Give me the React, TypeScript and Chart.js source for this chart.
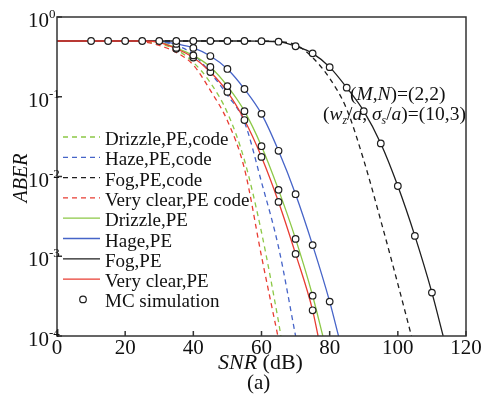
import React, { useEffect, useRef } from 'react';
import { Chart, registerables } from 'chart.js';

Chart.register(...registerables);

// ---- axis ticks ----
const xTicks = [0, 20, 40, 60, 80, 100, 120];
const yTickExps = [0, -1, -2, -3, -4];

// ---- analytical PE curves (solid) ----
const drizzleX = [0, 5, 10, 15, 20, 25, 30, 35, 40, 45, 50, 55, 60, 65, 70, 75, 78];
const drizzleY = [0.5, 0.5, 0.5, 0.5, 0.5, 0.5, 0.485, 0.41, 0.33, 0.236, 0.136, 0.066, 0.024, 0.0068, 0.00165, 0.00032, 0.0001];

const hazeX = [0, 5, 10, 15, 20, 25, 30, 35, 40, 45, 50, 55, 60, 65, 70, 75, 80, 82.6];
const hazeY = [0.5, 0.5, 0.5, 0.5, 0.5, 0.5, 0.495, 0.46, 0.41, 0.324, 0.223, 0.125, 0.061, 0.021, 0.006, 0.00138, 0.00027, 0.0001];

const fogX = [0, 5, 10, 15, 20, 25, 30, 35, 40, 45, 50, 55, 60, 65, 70, 75, 80, 85, 90, 95, 100, 105, 110, 113.3];
const fogY = [0.5, 0.5, 0.5, 0.5, 0.5, 0.5, 0.5, 0.5, 0.5, 0.5, 0.5, 0.5, 0.497, 0.49, 0.43, 0.35, 0.235, 0.13, 0.066, 0.026, 0.0076, 0.0018, 0.00035, 0.0001];

const clearX = [0, 5, 10, 15, 20, 25, 30, 35, 40, 45, 50, 55, 60, 65, 70, 75, 76.6];
const clearY = [0.5, 0.5, 0.5, 0.5, 0.5, 0.5, 0.48, 0.4, 0.31, 0.204, 0.115, 0.051, 0.0176, 0.0048, 0.00107, 0.00021, 0.0001];

// ---- coded PE curves (dashed) ----
const drizzleCodeX = [0, 5, 10, 15, 20, 25, 30, 35, 40, 45, 50, 55, 60, 65, 65.7];
const drizzleCodeY = [0.5, 0.5, 0.5, 0.5, 0.5, 0.49, 0.46, 0.39, 0.27, 0.15, 0.063, 0.016, 0.002, 0.00015, 0.0001];

const hazeCodeX = [0, 5, 10, 15, 20, 25, 30, 35, 40, 45, 50, 55, 60, 65, 70];
const hazeCodeY = [0.5, 0.5, 0.5, 0.5, 0.5, 0.5, 0.49, 0.44, 0.34, 0.2, 0.105, 0.048, 0.0085, 0.0013, 0.0001];

const fogCodeX = [0, 5, 10, 15, 20, 25, 30, 35, 40, 45, 50, 55, 60, 65, 70, 75, 80, 85, 90, 95, 100, 104];
const fogCodeY = [0.5, 0.5, 0.5, 0.5, 0.5, 0.5, 0.5, 0.5, 0.5, 0.5, 0.5, 0.5, 0.498, 0.49, 0.45, 0.31, 0.17, 0.07, 0.016, 0.0028, 0.00045, 0.0001];

const clearCodeX = [0, 5, 10, 15, 20, 25, 30, 35, 40, 45, 50, 55, 60, 64.8];
const clearCodeY = [0.5, 0.5, 0.5, 0.5, 0.5, 0.49, 0.44, 0.36, 0.25, 0.12, 0.05, 0.0125, 0.001, 0.0001];

// ---- Monte-Carlo simulation SNR points ----
const mcFogSnr = [10, 15, 20, 25, 30, 35, 40, 45, 50, 55, 60, 65, 70, 75, 80, 85, 90, 95, 100, 105, 110];
const mcHazeSnr = [35, 40, 45, 50, 55, 60, 65, 70, 75, 80];
const mcDrizzleSnr = [35, 40, 45, 50, 55, 60, 65, 70, 75];
const mcClearSnr = [35, 40, 45, 50, 55, 60, 65, 70, 75];

const GREEN = 'rgb(140,200,70)';
const BLUE = 'rgb(70,100,200)';
const BLACK = 'rgb(30,30,30)';
const RED = 'rgb(232,60,50)';
const DASH = [5, 4];

const pts = (xs: number[], ys: number[]) => xs.map((x, i) => ({ x, y: ys[i] }));
const mcPts = (snr: number[], xs: number[], ys: number[]) =>
  snr.map((s) => ({ x: s, y: ys[xs.indexOf(s)] }));

const SERIF = '"Liberation Serif", "DejaVu Serif", serif';

type Seg = { t: string; it?: boolean; sub?: boolean };

function drawSegs(ctx: CanvasRenderingContext2D, segs: Seg[], x: number, y: number, size: number) {
  let cx = x;
  segs.forEach((s) => {
    const sz = s.sub ? size * 0.6 : size;
    ctx.font = `${s.it ? 'italic ' : ''}${sz}px ${SERIF}`;
    const yy = s.sub ? y + size * 0.22 : y;
    ctx.fillText(s.t, cx, yy);
    cx += ctx.measureText(s.t).width;
  });
}

const legendItems = [
  { label: 'Drizzle,PE,code', color: GREEN, dash: DASH },
  { label: 'Haze,PE,code', color: BLUE, dash: DASH },
  { label: 'Fog,PE,code', color: BLACK, dash: DASH },
  { label: 'Very clear,PE code', color: RED, dash: DASH },
  { label: 'Drizzle,PE', color: GREEN, dash: [] as number[] },
  { label: 'Hage,PE', color: BLUE, dash: [] as number[] },
  { label: 'Fog,PE', color: BLACK, dash: [] as number[] },
  { label: 'Very clear,PE', color: RED, dash: [] as number[] },
  { label: 'MC simulation', color: BLACK, dash: null as number[] | null },
];

const decorPlugin = {
  id: 'decor',
  afterDraw(chart: any) {
    const ctx: CanvasRenderingContext2D = chart.ctx;
    const { left, right, top, bottom } = chart.chartArea;
    const xs = chart.scales.x;
    const ys = chart.scales.y;
    ctx.save();
    ctx.setLineDash([]);
    // frame
    ctx.strokeStyle = '#333';
    ctx.lineWidth = 1.5;
    ctx.strokeRect(left, top, right - left, bottom - top);
    // inward ticks
    ctx.beginPath();
    xTicks.forEach((v) => {
      const px = xs.getPixelForValue(v);
      ctx.moveTo(px, bottom);
      ctx.lineTo(px, bottom - 5);
    });
    yTickExps.forEach((e) => {
      const py = ys.getPixelForValue(Math.pow(10, e));
      ctx.moveTo(left, py);
      ctx.lineTo(left + 5, py);
    });
    ctx.stroke();

    ctx.fillStyle = '#111';
    ctx.textBaseline = 'alphabetic';
    // x tick labels
    ctx.font = `21px ${SERIF}`;
    ctx.textAlign = 'center';
    xTicks.forEach((v) => ctx.fillText(String(v), xs.getPixelForValue(v), 354));
    // y tick labels
    yTickExps.forEach((e) => {
      const py = ys.getPixelForValue(Math.pow(10, e));
      ctx.textAlign = 'right';
      ctx.font = `21px ${SERIF}`;
      ctx.fillText('10', 49, py + 10);
      ctx.textAlign = 'left';
      ctx.font = `13px ${SERIF}`;
      ctx.fillText(e === 0 ? '0' : '-' + String(-e), 49, py + 1);
    });

    // axis titles
    ctx.textAlign = 'left';
    drawSegs(ctx, [{ t: 'SNR', it: true }, { t: ' (dB)' }], 218, 369, 22);
    drawSegs(ctx, [{ t: '(a)' }], 247, 389, 21);
    ctx.save();
    ctx.translate(27, 178);
    ctx.rotate(-Math.PI / 2);
    ctx.textAlign = 'center';
    ctx.font = `italic 20px ${SERIF}`;
    ctx.fillText('ABER', 0, 0);
    ctx.restore();

    // annotation
    ctx.textAlign = 'left';
    drawSegs(ctx, [{ t: '(' }, { t: 'M', it: true }, { t: ',' }, { t: 'N', it: true }, { t: ')=(2,2)' }], 350, 100, 19.5);
    drawSegs(
      ctx,
      [
        { t: '(' }, { t: 'w', it: true }, { t: 'z', it: true, sub: true }, { t: '/' }, { t: 'a', it: true },
        { t: ', ' }, { t: 'σ', it: true }, { t: 's', it: true, sub: true }, { t: '/' }, { t: 'a', it: true },
        { t: ')=(10,3)' },
      ],
      323, 120, 19.5
    );

    // legend
    legendItems.forEach((it, i) => {
      const y = 137 + i * 20.3;
      if (it.dash) {
        ctx.beginPath();
        ctx.setLineDash(it.dash);
        ctx.strokeStyle = it.color;
        ctx.lineWidth = 1.3;
        ctx.moveTo(63, y);
        ctx.lineTo(100, y);
        ctx.stroke();
        ctx.setLineDash([]);
      } else {
        ctx.beginPath();
        ctx.arc(83, y, 3.3, 0, Math.PI * 2);
        ctx.fillStyle = '#fff';
        ctx.fill();
        ctx.strokeStyle = BLACK;
        ctx.lineWidth = 1.2;
        ctx.stroke();
      }
      ctx.fillStyle = '#111';
      ctx.font = `19px ${SERIF}`;
      ctx.fillText(it.label, 105, y + 8);
    });
    ctx.restore();
  },
};

export default function App() {
  const ref = useRef<HTMLCanvasElement | null>(null);
  useEffect(() => {
    if (!ref.current) return;
    const lineDs = (label: string, data: any[], color: string, dashed: boolean) => ({
      label,
      data,
      borderColor: color,
      backgroundColor: color,
      borderWidth: 1.3,
      borderDash: dashed ? DASH : [],
      pointRadius: 0,
      cubicInterpolationMode: 'monotone' as const,
      fill: false,
    });
    const mcDs = (data: any[]) => ({
      label: 'MC simulation',
      data,
      showLine: false,
      pointRadius: 3.3,
      pointStyle: 'circle',
      pointBackgroundColor: '#fff',
      pointBorderColor: BLACK,
      pointBorderWidth: 1.2,
      borderColor: BLACK,
      backgroundColor: '#fff',
    });
    const chart = new Chart(ref.current, {
      type: 'line',
      data: {
        datasets: [
          mcDs(mcPts(mcFogSnr, fogX, fogY)),
          mcDs(mcPts(mcHazeSnr, hazeX, hazeY)),
          mcDs(mcPts(mcDrizzleSnr, drizzleX, drizzleY)),
          mcDs(mcPts(mcClearSnr, clearX, clearY)),
          lineDs('Very clear,PE', pts(clearX, clearY), RED, false),
          lineDs('Fog,PE', pts(fogX, fogY), BLACK, false),
          lineDs('Hage,PE', pts(hazeX, hazeY), BLUE, false),
          lineDs('Drizzle,PE', pts(drizzleX, drizzleY), GREEN, false),
          lineDs('Very clear,PE code', pts(clearCodeX, clearCodeY), RED, true),
          lineDs('Fog,PE,code', pts(fogCodeX, fogCodeY), BLACK, true),
          lineDs('Haze,PE,code', pts(hazeCodeX, hazeCodeY), BLUE, true),
          lineDs('Drizzle,PE,code', pts(drizzleCodeX, drizzleCodeY), GREEN, true),
        ] as any,
      },
      options: {
        animation: false,
        responsive: false,
        devicePixelRatio: 1,
        events: [],
        layout: { padding: { left: 57, right: 22, top: 17, bottom: 58 } },
        scales: {
          x: { type: 'linear', min: 0, max: 120, display: false },
          y: { type: 'logarithmic', min: 0.0001, max: 1, display: false },
        },
        plugins: { legend: { display: false }, tooltip: { enabled: false } },
      },
      plugins: [decorPlugin],
    });
    return () => chart.destroy();
  }, []);
  return (
    <div style={{ position: 'absolute', left: 0, top: 0, width: 488, height: 394, background: '#fff' }}>
      <canvas ref={ref} width={488} height={394} style={{ width: 488, height: 394 }} />
    </div>
  );
}
